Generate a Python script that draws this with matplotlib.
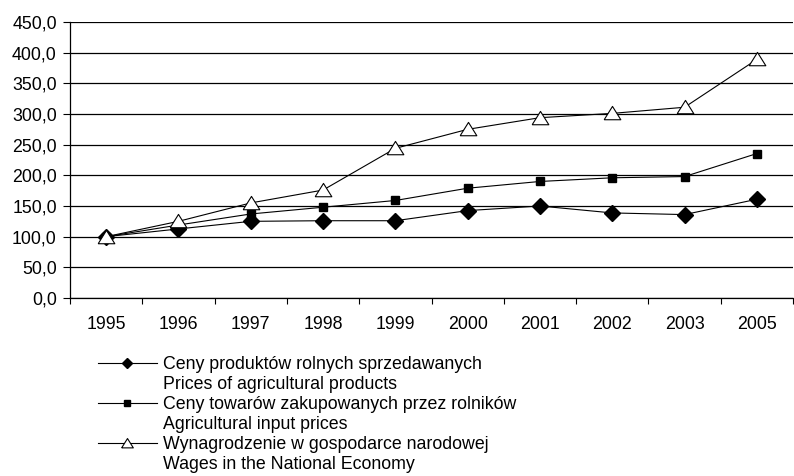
import matplotlib.pyplot as plt
from matplotlib.ticker import FuncFormatter

plt.rcParams['font.family'] = ['Liberation Sans', 'DejaVu Sans']

# dane
years = ['1995', '1996', '1997', '1998', '1999', '2000', '2001', '2002', '2003', '2005']
products = [100, 112.6, 125, 126, 126, 142.5, 150, 138.7, 136, 161]
inputs = [100, 119, 137, 148, 159, 179, 190, 196, 198, 235.5]
wages = [100, 125, 155, 176, 244, 275, 294, 301, 311, 389]

labels = [
    'Ceny produktów rolnych sprzedawanych', 'Prices of agricultural products',
    'Ceny towarów zakupowanych przez rolników', 'Agricultural input prices',
    'Wynagrodzenie w gospodarce narodowej', 'Wages in the National Economy',
]

tri = [(-1, -0.75), (1, -0.75), (0, 0.85), (-1, -0.75)]
fs = 12.8

fig = plt.figure(figsize=(7.94, 4.76), dpi=100)
ax = fig.add_axes([70 / 794, 1 - 298 / 476, 723 / 794, 276 / 476])

x = range(len(years))
l1, = ax.plot(x, products, color='black', lw=0.8, marker='D', ms=8,
              mfc='black', mec='black', zorder=3)
l2, = ax.plot(x, inputs, color='black', lw=0.8, marker='s', ms=6,
              mfc='black', mec='black', zorder=3)
l3, = ax.plot(x, wages, color='black', lw=0.8, marker=tri, ms=12,
              mfc='white', mec='black', mew=0.8, zorder=3)

ax.set_xlim(-0.5, len(years) - 0.5)
ax.set_ylim(0, 450)
ax.set_yticks(range(0, 451, 50))
ax.yaxis.set_major_formatter(FuncFormatter(lambda v, p: f'{v:.1f}'.replace('.', ',')))
ax.grid(axis='y', color='black', lw=0.9)
ax.set_axisbelow(True)

ax.set_xticks(list(x))
ax.set_xticklabels(years)
ax.set_xticks([i + 0.5 for i in range(-1, len(years))], minor=True)
ax.tick_params(axis='x', which='major', length=0, pad=13)
ax.tick_params(axis='x', which='minor', length=4, width=0.8, direction='out')
ax.tick_params(axis='y', length=5, width=0.8, pad=4.5)
ax.tick_params(labelsize=fs)

for s in ['top', 'right']:
    ax.spines[s].set_visible(False)
for s in ['left', 'bottom']:
    ax.spines[s].set_linewidth(0.9)

blank, = ax.plot([], [], color='none')
leg = fig.legend([l1, blank, l2, blank, l3, blank], labels,
                 loc='upper left', bbox_to_anchor=(98 / 794, 1 - 356 / 476),
                 frameon=False, fontsize=fs, handlelength=3.3,
                 handletextpad=0.35, labelspacing=0.17, borderpad=0,
                 borderaxespad=0, markerscale=0.7)

fig.savefig('out.png', dpi=100)
